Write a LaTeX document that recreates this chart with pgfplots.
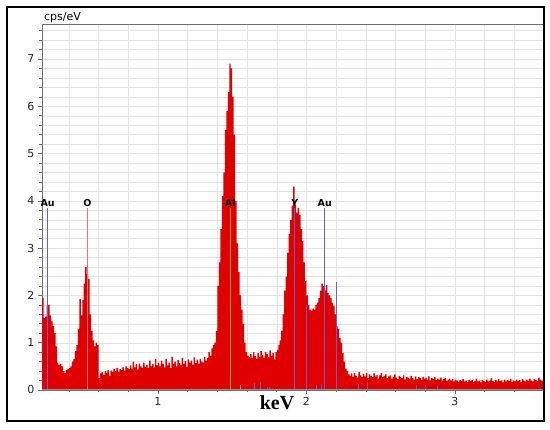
\documentclass[border=0pt]{standalone}
\usepackage{pgfplots}
\pgfplotsset{compat=1.18}
\usepackage{fontspec}
\setsansfont{DejaVu Sans}
\newfontfamily\serifb{Liberation Serif}
\definecolor{specred}{RGB}{225,0,0}
\definecolor{aublue}{RGB}{95,95,225}
\definecolor{opink}{RGB}{235,115,115}
\definecolor{alolive}{RGB}{175,165,45}
\definecolor{gridgray}{RGB}{226,226,226}
\definecolor{axgray}{RGB}{110,110,110}
\begin{document}
\begin{tikzpicture}
\path (0pt,0pt) rectangle (550pt,430pt);
\begin{axis}[
  at={(42pt,40pt)}, anchor=south west,
  width=501pt, height=366pt, scale only axis,
  xmin=0.2189, xmax=3.593, ymin=0, ymax=7.74,
  xtick={1,2,3}, ytick={0,1,2,3,4,5,6,7},
  minor xtick={0.4,0.6,0.8,1.2,1.4,1.6,1.8,2.2,2.4,2.6,2.8,3.2,3.4},
  minor ytick={0.2,0.4,0.6,0.8,1.2,1.4,1.6,1.8,2.2,2.4,2.6,2.8,3.2,3.4,3.6,3.8,4.2,4.4,4.6,4.8,5.2,5.4,5.6,5.8,6.2,6.4,6.6,6.8,7.2,7.4,7.6},
  grid=both, major grid style={draw=gridgray}, minor grid style={draw=gridgray},
  tick pos=left, tick align=outside,
  major tick length=4pt, minor tick length=2.5pt,
  every tick/.style={draw=axgray, line width=0.6pt},
  axis line style={draw=axgray, line width=0.8pt},
  ticklabel style={font=\sffamily\fontsize{11}{13}\selectfont, text=black!85},
  /pgf/number format/assume math mode=true,
]
\addplot[const plot, fill=specred, draw=none] coordinates {
(0.219,1.95) (0.23,1.52) (0.24,1.55) (0.25,1.78) (0.26,1.80) (0.27,1.58) (0.28,1.45) (0.29,1.35) (0.30,1.20) (0.31,0.92)
(0.32,0.58) (0.33,0.53) (0.34,0.55) (0.35,0.50) (0.36,0.40) (0.37,0.36) (0.38,0.42) (0.39,0.44) (0.40,0.46) (0.41,0.50)
(0.42,0.60) (0.43,0.66) (0.44,0.82) (0.45,0.95) (0.46,1.30) (0.47,1.92) (0.48,1.58) (0.49,1.90) (0.50,2.25) (0.51,2.60)
(0.52,2.45) (0.53,2.35) (0.54,1.60) (0.55,1.25) (0.56,1.05) (0.57,0.92) (0.58,1.00) (0.59,0.95) (0.60,0.25)
(0.61,0.35) (0.62,0.38) (0.63,0.32) (0.64,0.40) (0.65,0.36) (0.66,0.42) (0.67,0.30) (0.68,0.41) (0.69,0.38) (0.70,0.45)
(0.71,0.40) (0.72,0.47) (0.73,0.38) (0.74,0.44) (0.75,0.42) (0.76,0.48) (0.77,0.41) (0.78,0.50) (0.79,0.46) (0.80,0.44)
(0.81,0.52) (0.82,0.45) (0.83,0.60) (0.84,0.48) (0.85,0.55) (0.86,0.43) (0.87,0.56) (0.88,0.50) (0.89,0.47) (0.90,0.58)
(0.91,0.49) (0.92,0.53) (0.93,0.46) (0.94,0.62) (0.95,0.50) (0.96,0.55) (0.97,0.48) (0.98,0.66) (0.99,0.52) (1.00,0.58)
(1.01,0.50) (1.02,0.62) (1.03,0.55) (1.04,0.48) (1.05,0.66) (1.06,0.52) (1.07,0.58) (1.08,0.46) (1.09,0.70) (1.10,0.55)
(1.11,0.60) (1.12,0.50) (1.13,0.63) (1.14,0.57) (1.15,0.52) (1.16,0.68) (1.17,0.55) (1.18,0.61) (1.19,0.49) (1.20,0.65)
(1.21,0.58) (1.22,0.62) (1.23,0.53) (1.24,0.69) (1.25,0.57) (1.26,0.64) (1.27,0.55) (1.28,0.66) (1.29,0.60) (1.30,0.58)
(1.31,0.70) (1.32,0.62) (1.33,0.68) (1.34,0.80) (1.35,0.72) (1.36,0.88) (1.37,0.95) (1.38,1.00) (1.39,1.25) (1.40,2.20)
(1.41,2.70) (1.42,3.40) (1.43,4.10) (1.44,4.60) (1.45,5.50) (1.46,5.90) (1.47,6.30) (1.48,6.90) (1.49,6.80) (1.50,6.20)
(1.51,5.40) (1.52,4.00) (1.53,3.10) (1.54,2.50) (1.55,2.00) (1.56,1.70) (1.57,1.40) (1.58,1.00) (1.59,0.80) (1.60,0.72)
(1.61,0.70) (1.62,0.76) (1.63,0.68) (1.64,0.80) (1.65,0.72) (1.66,0.66) (1.67,0.78) (1.68,0.70) (1.69,0.82) (1.70,0.74)
(1.71,0.68) (1.72,0.80) (1.73,0.76) (1.74,0.70) (1.75,0.84) (1.76,0.72) (1.77,0.78) (1.78,0.65) (1.79,0.80) (1.80,0.85)
(1.81,0.95) (1.82,1.05) (1.83,1.25) (1.84,1.60) (1.85,2.10) (1.86,2.40) (1.87,2.90) (1.88,3.30) (1.89,3.60) (1.90,3.90)
(1.91,4.30) (1.92,3.90) (1.93,3.75) (1.94,3.85) (1.95,3.70) (1.96,3.40) (1.97,3.15) (1.98,2.70) (1.99,2.30) (2.00,2.00)
(2.01,1.80) (2.02,1.70) (2.03,1.68) (2.04,1.72) (2.05,1.70) (2.06,1.80) (2.07,1.85) (2.08,1.95) (2.09,2.10) (2.10,2.25)
(2.11,2.20) (2.12,2.10) (2.13,2.22) (2.14,2.05) (2.15,2.00) (2.16,1.95) (2.17,1.85) (2.18,1.78) (2.19,1.60) (2.20,1.35)
(2.21,1.30) (2.22,1.10) (2.23,1.00) (2.24,0.78) (2.25,0.60) (2.26,0.45) (2.27,0.40) (2.28,0.33) (2.29,0.30) (2.30,0.35)
(2.31,0.28) (2.32,0.36) (2.33,0.30) (2.34,0.26) (2.35,0.38) (2.36,0.31) (2.37,0.27) (2.38,0.34) (2.39,0.29) (2.40,0.36)
(2.41,0.25) (2.42,0.33) (2.43,0.30) (2.44,0.27) (2.45,0.35) (2.46,0.29) (2.47,0.32) (2.48,0.24) (2.49,0.31) (2.50,0.36)
(2.51,0.27) (2.52,0.30) (2.53,0.33) (2.54,0.25) (2.55,0.29) (2.56,0.31) (2.57,0.24) (2.58,0.28) (2.59,0.33) (2.60,0.26)
(2.61,0.23) (2.62,0.30) (2.63,0.27) (2.64,0.25) (2.65,0.31) (2.66,0.22) (2.67,0.28) (2.68,0.26) (2.69,0.24) (2.70,0.30)
(2.71,0.25) (2.72,0.22) (2.73,0.29) (2.74,0.23) (2.75,0.27) (2.76,0.25) (2.77,0.21) (2.78,0.28) (2.79,0.24) (2.80,0.26)
(2.81,0.22) (2.82,0.29) (2.83,0.20) (2.84,0.25) (2.85,0.23) (2.86,0.27) (2.87,0.21) (2.88,0.24) (2.89,0.22) (2.90,0.26)
(2.91,0.20) (2.92,0.23) (2.93,0.25) (2.94,0.19) (2.95,0.22) (2.96,0.24) (2.97,0.20) (2.98,0.23) (2.99,0.18) (3.00,0.22)
(3.01,0.20) (3.02,0.17) (3.03,0.21) (3.04,0.19) (3.05,0.23) (3.06,0.18) (3.07,0.20) (3.08,0.16) (3.09,0.22) (3.10,0.19)
(3.11,0.21) (3.12,0.17) (3.13,0.19) (3.14,0.24) (3.15,0.18) (3.16,0.20) (3.17,0.16) (3.18,0.21) (3.19,0.19) (3.20,0.17)
(3.21,0.22) (3.22,0.18) (3.23,0.20) (3.24,0.25) (3.25,0.19) (3.26,0.17) (3.27,0.21) (3.28,0.18) (3.29,0.23) (3.30,0.19)
(3.31,0.20) (3.32,0.16) (3.33,0.22) (3.34,0.18) (3.35,0.21) (3.36,0.19) (3.37,0.24) (3.38,0.17) (3.39,0.20) (3.40,0.18)
(3.41,0.22) (3.42,0.19) (3.43,0.21) (3.44,0.17) (3.45,0.23) (3.46,0.20) (3.47,0.18) (3.48,0.22) (3.49,0.19) (3.50,0.24)
(3.51,0.20) (3.52,0.18) (3.53,0.23) (3.54,0.21) (3.55,0.19) (3.56,0.26) (3.57,0.22) (3.58,0.20) (3.593,0.20)
} \closedcycle;
% element marker lines
\addplot[ycomb, draw=aublue, line width=0.9pt] coordinates {(0.257,3.85) (1.922,3.85) (2.123,3.85) (2.000,1.80) (2.204,2.28)};
\addplot[ycomb, draw=opink, line width=0.9pt] coordinates {(0.525,3.85)};
\addplot[ycomb, draw=alolive, line width=0.9pt] coordinates {(1.486,3.85)};
\addplot[ycomb, draw=aublue, line width=0.8pt] coordinates {(1.650,0.15) (1.688,0.17) (1.740,0.07) (1.752,0.07) (2.070,0.10) (2.100,0.12) (2.118,0.15) (2.350,0.12) (2.410,0.16) (2.740,0.10) (2.800,0.10) (2.880,0.08)};
\addplot[ycomb, draw=alolive!80!green, line width=0.8pt] coordinates {(1.553,0.10)};
% element labels
\begin{scope}[every node/.style={anchor=south, inner sep=1pt, font=\sffamily\bfseries\fontsize{9.5}{11}\selectfont}]
\node at (axis cs:0.257,3.86) {Au};
\node at (axis cs:0.525,3.86) {O};
\node at (axis cs:1.486,3.86) {Al};
\node at (axis cs:1.922,3.86) {Y};
\node at (axis cs:2.123,3.86) {Au};
\end{scope}
\draw[draw=gray!85, line width=1.8pt] (rel axis cs:0,0) -- (rel axis cs:1,0);
\end{axis}
\draw[line width=1.5pt] (7pt,9pt) rectangle (544pt,423pt);
\node[anchor=base west, inner sep=0pt, font=\sffamily\fontsize{11}{13}\selectfont] at (44pt,409pt) {cps/eV};
\node[anchor=base, inner sep=0pt, font=\serifb\bfseries\fontsize{20}{24}\selectfont] at (277pt,20pt) {keV};
\end{tikzpicture}
\end{document}
